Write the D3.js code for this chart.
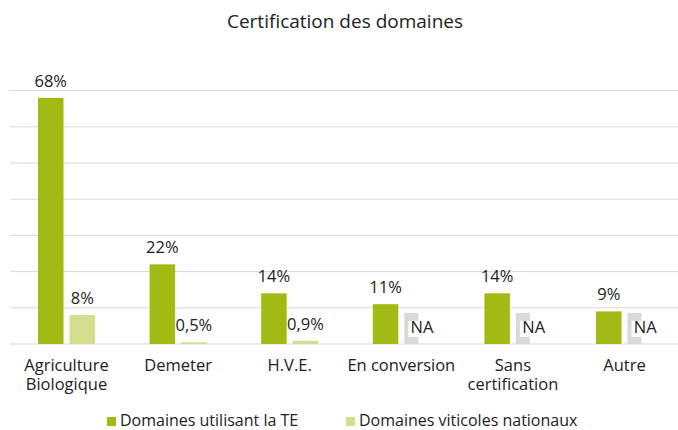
<!DOCTYPE html>
<html>
<head>
<meta charset="utf-8">
<script src="https://cdn.jsdelivr.net/npm/d3@7"></script>
<style>
  body { margin: 0; background: #fff; }
  svg { display: block; font-family: "Open Sans", sans-serif; }
</style>
</head>
<body>
<div class="box"></div>
<script>
// categories and series
var categories = [["Agriculture", "Biologique"], ["Demeter"], ["H.V.E."], ["En conversion"], ["Sans", "certification"], ["Autre"]];
var teValues = [68, 22, 14, 11, 14, 9];
var natValues = [8, 0.5, 0.9, null, null, null];
var naPlaceholder = 8.6;   // grey bar drawn where no national value exists
var teLabels = ["68%", "22%", "14%", "11%", "14%", "9%"];
var natLabels = ["8%", "0,5%", "0,9%", "NA", "NA", "NA"];
var seriesNames = ["Domaines utilisant la TE", "Domaines viticoles nationaux"];
var yTicks = [0, 10, 20, 30, 40, 50, 60, 70];

width = 678;
height = 430;
var colors = ["#A2BB14", "#D3DF8E"];

const svg = d3.create("svg")
    .attr("width", width)
    .attr("height", height);

var idx = d3.range(categories.length);

var x0 = d3.scaleBand(idx, [10.7, 680.3]);
var x1 = d3.scaleBand(["te", "nat"], [0, 57]).paddingInner(0.19);
var y = d3.scaleLinear([0, 70], [344, 90.6]);

function groupX(i) {
    return x0(i) + (x0.bandwidth() - 57) / 2;
}

// title
svg.append("text")
    .attr("x", 345)
    .attr("y", 28)
    .attr("text-anchor", "middle")
    .attr("font-size", 19)
    .attr("fill", "#222")
    .text("Certification des domaines");

// gridlines
svg.append("g")
    .selectAll("line")
    .data(yTicks)
    .join("line")
    .attr("x1", 10)
    .attr("x2", 678)
    .attr("y1", d => y(d))
    .attr("y2", d => y(d))
    .attr("stroke", "#D9D9D9")
    .attr("stroke-width", 1);

// TE bars
svg.append("g")
    .selectAll("rect")
    .data(idx)
    .join("rect")
    .attr("x", i => groupX(i) + x1("te"))
    .attr("width", x1.bandwidth())
    .attr("y", i => y(teValues[i]))
    .attr("height", i => y(0) - y(teValues[i]))
    .attr("fill", colors[0]);

// national bars (narrow grey placeholder when NA)
svg.append("g")
    .selectAll("rect")
    .data(idx)
    .join("rect")
    .attr("x", i => groupX(i) + x1("nat"))
    .attr("width", i => natValues[i] == null ? 14 : x1.bandwidth())
    .attr("y", i => y(natValues[i] == null ? naPlaceholder : natValues[i]))
    .attr("height", i => y(0) - y(natValues[i] == null ? naPlaceholder : natValues[i]))
    .attr("fill", i => natValues[i] == null ? "#D9D9D9" : colors[1]);

// value labels
svg.append("g")
    .selectAll("text")
    .data(idx)
    .join("text")
    .attr("x", i => groupX(i) + x1("te") + x1.bandwidth() / 2)
    .attr("y", i => y(teValues[i]) - 11)
    .attr("text-anchor", "middle")
    .attr("font-size", 16.5)
    .attr("fill", "#222")
    .text(i => teLabels[i]);

var natLab = svg.append("g")
    .selectAll("g")
    .data(idx)
    .join("g");

// white box behind NA labels
natLab.filter(i => natValues[i] == null)
    .append("rect")
    .attr("x", i => groupX(i) + x1("nat") + 4)
    .attr("y", y(naPlaceholder) + 8)
    .attr("width", 32)
    .attr("height", 16)
    .attr("fill", "#fff");

natLab.append("text")
    .attr("x", i => groupX(i) + x1("nat") + x1.bandwidth() / 2 + (natValues[i] == null ? 5 : 0))
    .attr("y", i => natValues[i] == null ? y(naPlaceholder) + 20 : y(natValues[i]) - 11)
    .attr("text-anchor", "middle")
    .attr("font-size", 16.5)
    .attr("fill", "#222")
    .text(i => natLabels[i]);

// category labels, one text per line
svg.append("g")
    .selectAll("g")
    .data(idx)
    .join("g")
    .attr("transform", i => `translate(${x0(i) + x0.bandwidth() / 2},0)`)
    .selectAll("text")
    .data(i => categories[i])
    .join("text")
    .attr("y", (d, j) => 371 + j * 18.5)
    .attr("text-anchor", "middle")
    .attr("font-size", 16.5)
    .attr("fill", "#222")
    .text(d => d);

// legend
var legendX = [107, 346];
var legend = svg.append("g")
    .selectAll("g")
    .data(seriesNames)
    .join("g")
    .attr("transform", (d, i) => `translate(${legendX[i]},0)`);

legend.append("rect")
    .attr("x", 0)
    .attr("y", 417)
    .attr("width", 9)
    .attr("height", 9)
    .attr("fill", (d, i) => colors[i]);

legend.append("text")
    .attr("x", 13)
    .attr("y", 425.5)
    .attr("font-size", 16)
    .attr("fill", "#222")
    .text(d => d);

document.querySelector(".box").appendChild(svg.node());
</script>
</body>
</html>
